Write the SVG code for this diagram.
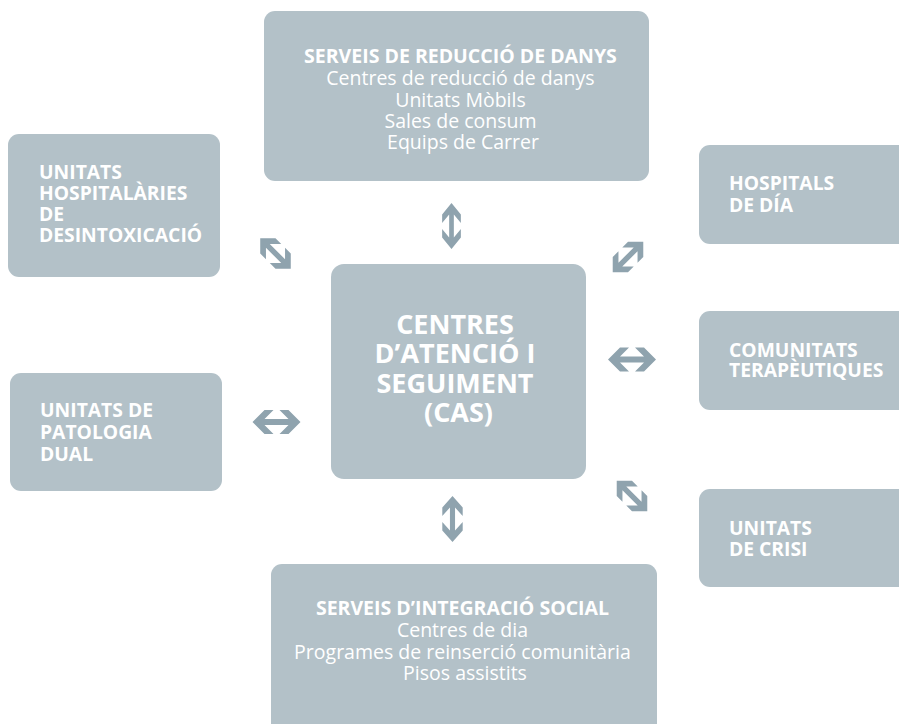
<svg xmlns="http://www.w3.org/2000/svg" width="899" height="724" viewBox="0 0 899 724">
  <defs>
    <style>
      .box { fill: #b3c1c8; }
      .arrow { fill: #8fa3ae; }
      .t { font-family: "Open Sans", "Liberation Sans", sans-serif; fill: #ffffff; }
      .b { font-weight: 700; }
      .r { font-weight: 400; }
    </style>
    <!-- double-headed arrow with chevron heads, centred on the origin, pointing along x -->
    <path id="dbl" d="M-24,0 L-12,-12 L-3,-12 L-12,-3 L12,-3 L3,-12 L12,-12 L24,0 L12,12 L3,12 L12,3 L-12,3 L-3,12 L-12,12 Z"/>
  </defs>
  <rect width="899" height="724" fill="#ffffff"/>

  <g id="harm-reduction">
    <rect class="box" x="264" y="11" width="385" height="170" rx="11"/>
    <text class="t" text-anchor="middle" font-size="19.5">
      <tspan class="b" x="463" y="63">SERVEIS DE REDUCCIÓ DE DANYS</tspan>
      <tspan class="r" x="463" y="85">Centres de reducció de danys</tspan>
      <tspan class="r" x="463" y="107">Unitats Mòbils</tspan>
      <tspan class="r" x="463" y="128">Sales de consum</tspan>
      <tspan class="r" x="463" y="149">Equips de Carrer</tspan>
    </text>
  </g>

  <g id="detox-units">
    <rect class="box" x="8" y="134" width="212" height="143" rx="11"/>
    <text class="t b" font-size="19.3">
      <tspan x="39" y="179">UNITATS</tspan>
      <tspan x="39" y="200">HOSPITALÀRIES</tspan>
      <tspan x="39" y="221">DE</tspan>
      <tspan x="39" y="242">DESINTOXICACIÓ</tspan>
    </text>
  </g>

  <g id="day-hospitals">
    <rect class="box" x="699" y="145" width="220" height="99" rx="11"/>
    <text class="t b" font-size="19.3">
      <tspan x="729" y="190">HOSPITALS</tspan>
      <tspan x="729" y="212">DE DÍA</tspan>
    </text>
  </g>

  <g id="therapeutic-communities">
    <rect class="box" x="699" y="311" width="220" height="99" rx="11"/>
    <text class="t b" font-size="19.3">
      <tspan x="729" y="357">COMUNITATS</tspan>
      <tspan x="729" y="377">TERAPÈUTIQUES</tspan>
    </text>
  </g>

  <g id="crisis-units">
    <rect class="box" x="699" y="489" width="220" height="98" rx="11"/>
    <text class="t b" font-size="19.3">
      <tspan x="729" y="535">UNITATS</tspan>
      <tspan x="729" y="556">DE CRISI</tspan>
    </text>
  </g>

  <g id="dual-pathology">
    <rect class="box" x="10" y="373" width="212" height="118" rx="11"/>
    <text class="t b" font-size="19.3">
      <tspan x="40" y="417">UNITATS DE</tspan>
      <tspan x="40" y="439">PATOLOGIA</tspan>
      <tspan x="40" y="461">DUAL</tspan>
    </text>
  </g>

  <g id="cas">
    <rect class="box" x="331" y="264" width="255" height="215" rx="13"/>
    <text class="t b" text-anchor="middle" font-size="27">
      <tspan x="458.5" y="334">CENTRES</tspan>
      <tspan x="458.5" y="363">D’ATENCIÓ I</tspan>
      <tspan x="458.5" y="393">SEGUIMENT</tspan>
      <tspan x="458.5" y="422">(CAS)</tspan>
    </text>
  </g>

  <g id="social-integration">
    <rect class="box" x="271" y="564" width="386" height="180" rx="11"/>
    <text class="t" text-anchor="middle" font-size="19.5">
      <tspan class="b" x="465" y="615">SERVEIS D’INTEGRACIÓ SOCIAL</tspan>
      <tspan class="r" x="465" y="637">Centres de dia</tspan>
      <tspan class="r" x="465" y="659">Programes de reinserció comunitària</tspan>
      <tspan class="r" x="465" y="680">Pisos assistits</tspan>
    </text>
  </g>

  <g id="connectors" class="arrow">
    <use href="#dbl" transform="translate(451.5,226) rotate(90) scale(0.96,0.78)"/>
    <use href="#dbl" transform="translate(452.5,519) rotate(90) scale(0.96,0.85)"/>
    <use href="#dbl" transform="translate(632,359.5)"/>
    <use href="#dbl" transform="translate(276.5,422)"/>
    <use href="#dbl" transform="translate(275.5,253.5) rotate(45) scale(0.9)"/>
    <use href="#dbl" transform="translate(628,257) rotate(-45) scale(0.9)"/>
    <use href="#dbl" transform="translate(632,496) rotate(45) scale(0.9)"/>
  </g>
</svg>
